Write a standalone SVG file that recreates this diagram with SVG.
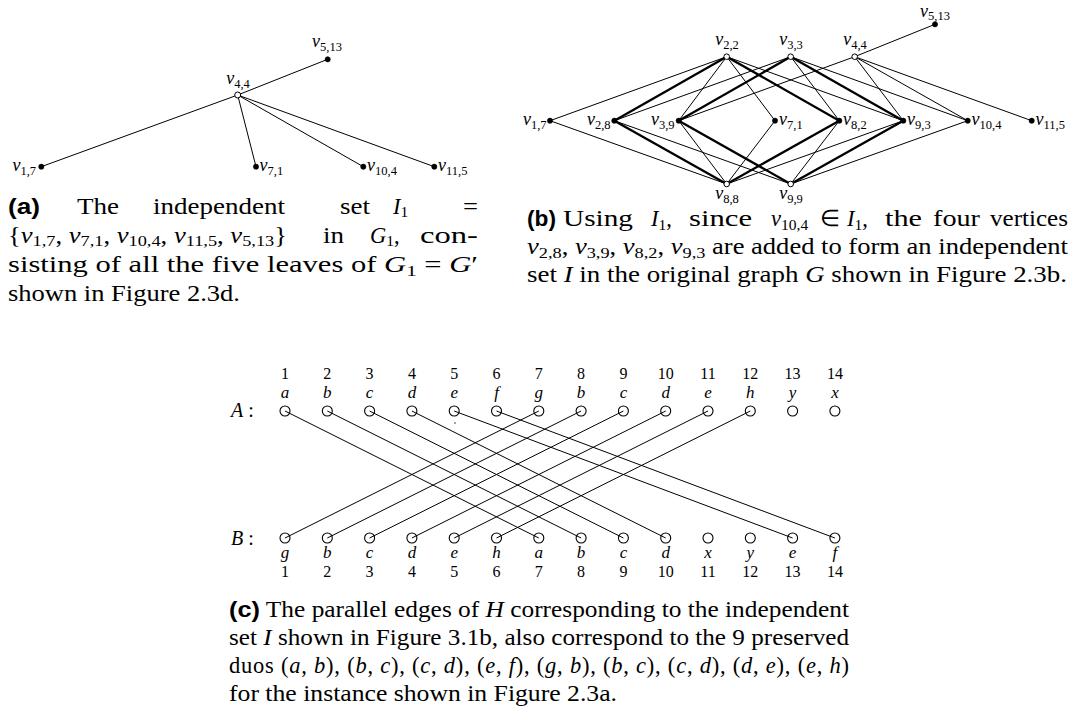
<svg xmlns="http://www.w3.org/2000/svg" width="1070" height="725" viewBox="0 0 1070 725">
<style>
.e{stroke:#000;stroke-width:1;fill:none}
.t{stroke:#000;stroke-width:2.3;fill:none}
.f{fill:#000;stroke:#000;stroke-width:0.6}
.o{fill:#fff;stroke:#000;stroke-width:1}
.c{fill:none;stroke:#000;stroke-width:1.1}
text{font-family:"Liberation Serif","Times New Roman",serif;fill:#000}
.lb{font-size:18px;font-style:italic}
.sb{font-size:12.5px;font-style:normal}
.cap{font-size:22.5px}
.m{font-style:italic}
.s2{font-size:15.5px;font-style:normal}
.bf{font-family:"Liberation Sans",Arial,sans-serif;font-weight:bold}
.num{font-size:16px;text-anchor:middle}
.let{font-size:17px;font-style:italic;text-anchor:middle}
.row{font-size:20px}
</style>

<!-- ===== (a) ===== -->
<g id="a-edges">
<line class="e" x1="237.7" y1="95" x2="327.7" y2="59.3"/>
<line class="e" x1="237.7" y1="95" x2="41.3" y2="166.7"/>
<line class="e" x1="237.7" y1="95" x2="256" y2="166.7"/>
<line class="e" x1="237.7" y1="95" x2="363.3" y2="166.7"/>
<line class="e" x1="237.7" y1="95" x2="434.3" y2="166.7"/>
</g>
<g id="a-v44"><circle class="o" cx="237.7" cy="95" r="3"/><text class="lb" x="238" y="84" text-anchor="middle">v<tspan class="sb" dy="3.5">4,4</tspan></text></g>
<g id="a-v513"><circle class="f" cx="327.7" cy="59.3" r="2.6"/><text class="lb" x="327" y="47" text-anchor="middle">v<tspan class="sb" dy="3.5">5,13</tspan></text></g>
<g id="a-v17"><circle class="f" cx="41.3" cy="166.7" r="2.6"/><text class="lb" x="36" y="171" text-anchor="end">v<tspan class="sb" dy="3.5">1,7</tspan></text></g>
<g id="a-v71"><circle class="f" cx="256" cy="166.7" r="2.6"/><text class="lb" x="259.5" y="171">v<tspan class="sb" dy="3.5">7,1</tspan></text></g>
<g id="a-v104"><circle class="f" cx="363.3" cy="166.7" r="2.6"/><text class="lb" x="367" y="171">v<tspan class="sb" dy="3.5">10,4</tspan></text></g>
<g id="a-v115"><circle class="f" cx="434.3" cy="166.7" r="2.6"/><text class="lb" x="438" y="171">v<tspan class="sb" dy="3.5">11,5</tspan></text></g>

<!-- caption (a) -->
<g id="cap-a" class="cap">
<text x="8" y="213.5" class="bf" textLength="32" lengthAdjust="spacingAndGlyphs">(a)</text>
<text x="77" y="213.5" textLength="42" lengthAdjust="spacingAndGlyphs">The</text>
<text x="153" y="213.5" textLength="132" lengthAdjust="spacingAndGlyphs">independent</text>
<text x="340" y="213.5" textLength="30" lengthAdjust="spacingAndGlyphs">set</text>
<text x="393" y="213.5"><tspan class="m">I</tspan><tspan class="s2" dy="3.5">1</tspan></text>
<text x="463" y="213.5" textLength="15" lengthAdjust="spacingAndGlyphs">=</text>
<text x="8" y="242.5" textLength="279" lengthAdjust="spacingAndGlyphs">{<tspan class="m">v</tspan><tspan class="s2" dy="3.5">1,7</tspan><tspan dy="-3.5">, </tspan><tspan class="m">v</tspan><tspan class="s2" dy="3.5">7,1</tspan><tspan dy="-3.5">, </tspan><tspan class="m">v</tspan><tspan class="s2" dy="3.5">10,4</tspan><tspan dy="-3.5">, </tspan><tspan class="m">v</tspan><tspan class="s2" dy="3.5">11,5</tspan><tspan dy="-3.5">, </tspan><tspan class="m">v</tspan><tspan class="s2" dy="3.5">5,13</tspan><tspan dy="-3.5">}</tspan></text>
<text x="323" y="242.5" textLength="21" lengthAdjust="spacingAndGlyphs">in</text>
<text x="370" y="242.5"><tspan class="m">G</tspan><tspan class="s2" dy="3.5">1</tspan><tspan dy="-3.5">,</tspan></text>
<text x="420" y="242.5" textLength="58" lengthAdjust="spacingAndGlyphs">con-</text>
<text x="8" y="272" textLength="470" lengthAdjust="spacingAndGlyphs">sisting of all the five leaves of <tspan class="m">G</tspan><tspan class="s2" dy="3.5">1</tspan><tspan dy="-3.5"> = </tspan><tspan class="m">G</tspan>′</text>
<text x="8" y="301" textLength="232" lengthAdjust="spacingAndGlyphs">shown in Figure 2.3d.</text>
</g>

<!-- ===== (b) ===== -->
<g id="b-edges">
<line class="e" x1="550" y1="120.7" x2="726.7" y2="56.7"/>
<line class="e" x1="550" y1="120.7" x2="726.7" y2="184"/>
<line class="e" x1="726.7" y1="56.7" x2="678.7" y2="120.7"/>
<line class="e" x1="726.7" y1="56.7" x2="903.3" y2="120.7"/>
<line class="e" x1="726.7" y1="56.7" x2="775" y2="120.7"/>
<line class="e" x1="614.3" y1="120.7" x2="790.7" y2="56.7"/>
<line class="e" x1="614.3" y1="120.7" x2="790.7" y2="184"/>
<line class="e" x1="678.7" y1="120.7" x2="726.7" y2="184"/>
<line class="e" x1="678.7" y1="120.7" x2="854.7" y2="56.7"/>
<line class="e" x1="839.3" y1="120.7" x2="790.7" y2="56.7"/>
<line class="e" x1="839.3" y1="120.7" x2="790.7" y2="184"/>
<line class="e" x1="726.7" y1="184" x2="903.3" y2="120.7"/>
<line class="e" x1="726.7" y1="184" x2="775" y2="120.7"/>
<line class="e" x1="790.7" y1="56.7" x2="967.7" y2="120.7"/>
<line class="e" x1="790.7" y1="184" x2="967.7" y2="120.7"/>
<line class="e" x1="854.7" y1="56.7" x2="903.3" y2="120.7"/>
<line class="e" x1="854.7" y1="56.7" x2="967.7" y2="120.7"/>
<line class="e" x1="854.7" y1="56.7" x2="935" y2="24.3"/>
<line class="e" x1="854.7" y1="56.7" x2="1031.7" y2="120.7"/>
<line class="t" x1="614.3" y1="120.7" x2="726.7" y2="56.7"/>
<line class="t" x1="614.3" y1="120.7" x2="726.7" y2="184"/>
<line class="t" x1="839.3" y1="120.7" x2="726.7" y2="56.7"/>
<line class="t" x1="839.3" y1="120.7" x2="726.7" y2="184"/>
<line class="t" x1="678.7" y1="120.7" x2="790.7" y2="56.7"/>
<line class="t" x1="678.7" y1="120.7" x2="790.7" y2="184"/>
<line class="t" x1="903.3" y1="120.7" x2="790.7" y2="56.7"/>
<line class="t" x1="903.3" y1="120.7" x2="790.7" y2="184"/>
</g>
<g id="b-v17"><circle class="f" cx="550" cy="120.7" r="2.6"/><text class="lb" x="546.5" y="125" text-anchor="end">v<tspan class="sb" dy="3.5">1,7</tspan></text></g>
<g id="b-v28"><circle class="f" cx="614.3" cy="120.7" r="2.6"/><text class="lb" x="610.5" y="125" text-anchor="end">v<tspan class="sb" dy="3.5">2,8</tspan></text></g>
<g id="b-v39"><circle class="f" cx="678.7" cy="120.7" r="2.6"/><text class="lb" x="674.5" y="125" text-anchor="end">v<tspan class="sb" dy="3.5">3,9</tspan></text></g>
<g id="b-v71"><circle class="f" cx="775" cy="120.7" r="2.6"/><text class="lb" x="779" y="125">v<tspan class="sb" dy="3.5">7,1</tspan></text></g>
<g id="b-v82"><circle class="f" cx="839.3" cy="120.7" r="2.6"/><text class="lb" x="843" y="125">v<tspan class="sb" dy="3.5">8,2</tspan></text></g>
<g id="b-v93"><circle class="f" cx="903.3" cy="120.7" r="2.6"/><text class="lb" x="907" y="125">v<tspan class="sb" dy="3.5">9,3</tspan></text></g>
<g id="b-v104"><circle class="f" cx="967.7" cy="120.7" r="2.6"/><text class="lb" x="971.5" y="125">v<tspan class="sb" dy="3.5">10,4</tspan></text></g>
<g id="b-v115"><circle class="f" cx="1031.7" cy="120.7" r="2.6"/><text class="lb" x="1035.5" y="125">v<tspan class="sb" dy="3.5">11,5</tspan></text></g>
<g id="b-v22"><circle class="o" cx="726.7" cy="56.7" r="2.8"/><text class="lb" x="727" y="45" text-anchor="middle">v<tspan class="sb" dy="3.5">2,2</tspan></text></g>
<g id="b-v33"><circle class="o" cx="790.7" cy="56.7" r="2.8"/><text class="lb" x="791" y="45" text-anchor="middle">v<tspan class="sb" dy="3.5">3,3</tspan></text></g>
<g id="b-v44"><circle class="o" cx="854.7" cy="56.7" r="2.8"/><text class="lb" x="855" y="45" text-anchor="middle">v<tspan class="sb" dy="3.5">4,4</tspan></text></g>
<g id="b-v513"><circle class="f" cx="935" cy="24.3" r="2.6"/><text class="lb" x="935" y="16.5" text-anchor="middle">v<tspan class="sb" dy="3">5,13</tspan></text></g>
<g id="b-v88"><circle class="o" cx="726.7" cy="184" r="2.8"/><text class="lb" x="727" y="199" text-anchor="middle">v<tspan class="sb" dy="3.5">8,8</tspan></text></g>
<g id="b-v99"><circle class="o" cx="790.7" cy="184" r="2.8"/><text class="lb" x="791" y="199" text-anchor="middle">v<tspan class="sb" dy="3.5">9,9</tspan></text></g>

<!-- caption (b) -->
<g id="cap-b" class="cap">
<text x="527" y="226" class="bf" textLength="29" lengthAdjust="spacingAndGlyphs">(b)</text>
<text x="563" y="226" textLength="70" lengthAdjust="spacingAndGlyphs">Using</text>
<text x="651" y="226"><tspan class="m">I</tspan><tspan class="s2" dy="3.5">1</tspan><tspan dy="-3.5">,</tspan></text>
<text x="689" y="226" textLength="63" lengthAdjust="spacingAndGlyphs">since</text>
<text x="771" y="226"><tspan class="m">v</tspan><tspan class="s2" dy="3.5">10,4</tspan></text>
<text x="820" y="226">∈</text>
<text x="847" y="226"><tspan class="m">I</tspan><tspan class="s2" dy="3.5">1</tspan><tspan dy="-3.5">,</tspan></text>
<text x="885" y="226" textLength="37" lengthAdjust="spacingAndGlyphs">the</text>
<text x="933" y="226" textLength="47" lengthAdjust="spacingAndGlyphs">four</text>
<text x="990" y="226" textLength="78" lengthAdjust="spacingAndGlyphs">vertices</text>
<text x="527" y="254" textLength="541" lengthAdjust="spacingAndGlyphs"><tspan class="m">v</tspan><tspan class="s2" dy="3.5">2,8</tspan><tspan dy="-3.5">, </tspan><tspan class="m">v</tspan><tspan class="s2" dy="3.5">3,9</tspan><tspan dy="-3.5">, </tspan><tspan class="m">v</tspan><tspan class="s2" dy="3.5">8,2</tspan><tspan dy="-3.5">, </tspan><tspan class="m">v</tspan><tspan class="s2" dy="3.5">9,3</tspan><tspan dy="-3.5"> are added to form an independent</tspan></text>
<text x="527" y="282" textLength="540" lengthAdjust="spacingAndGlyphs">set <tspan class="m">I</tspan> in the original graph <tspan class="m">G</tspan> shown in Figure 2.3b.</text>
</g>

<!-- ===== (c) ===== -->
<g id="c-edges">
<line class="e" x1="285" y1="411" x2="538.8" y2="538"/>
<line class="e" x1="327.3" y1="411" x2="581.1" y2="538"/>
<line class="e" x1="369.6" y1="411" x2="623.4" y2="538"/>
<line class="e" x1="411.9" y1="411" x2="665.7" y2="538"/>
<line class="e" x1="454.2" y1="411" x2="792.6" y2="538"/>
<line class="e" x1="496.5" y1="411" x2="834.9" y2="538"/>
<line class="e" x1="538.8" y1="411" x2="285" y2="538"/>
<line class="e" x1="581.1" y1="411" x2="327.3" y2="538"/>
<line class="e" x1="623.4" y1="411" x2="369.6" y2="538"/>
<line class="e" x1="665.7" y1="411" x2="411.9" y2="538"/>
<line class="e" x1="708" y1="411" x2="454.2" y2="538"/>
<line class="e" x1="750.3" y1="411" x2="496.5" y2="538"/>
</g>
<circle cx="455" cy="423" r="0.7" fill="#000"/>
<g id="rowA">
<text class="row" x="231" y="417"><tspan class="m">A</tspan> :</text>
<g id="A1"><circle class="c" cx="285" cy="411" r="5"/><text class="num" x="285" y="379">1</text><text class="let" x="285" y="398">a</text></g>
<g id="A2"><circle class="c" cx="327.3" cy="411" r="5"/><text class="num" x="327.3" y="379">2</text><text class="let" x="327.3" y="398">b</text></g>
<g id="A3"><circle class="c" cx="369.6" cy="411" r="5"/><text class="num" x="369.6" y="379">3</text><text class="let" x="369.6" y="398">c</text></g>
<g id="A4"><circle class="c" cx="411.9" cy="411" r="5"/><text class="num" x="411.9" y="379">4</text><text class="let" x="411.9" y="398">d</text></g>
<g id="A5"><circle class="c" cx="454.2" cy="411" r="5"/><text class="num" x="454.2" y="379">5</text><text class="let" x="454.2" y="398">e</text></g>
<g id="A6"><circle class="c" cx="496.5" cy="411" r="5"/><text class="num" x="496.5" y="379">6</text><text class="let" x="496.5" y="398">f</text></g>
<g id="A7"><circle class="c" cx="538.8" cy="411" r="5"/><text class="num" x="538.8" y="379">7</text><text class="let" x="538.8" y="398">g</text></g>
<g id="A8"><circle class="c" cx="581.1" cy="411" r="5"/><text class="num" x="581.1" y="379">8</text><text class="let" x="581.1" y="398">b</text></g>
<g id="A9"><circle class="c" cx="623.4" cy="411" r="5"/><text class="num" x="623.4" y="379">9</text><text class="let" x="623.4" y="398">c</text></g>
<g id="A10"><circle class="c" cx="665.7" cy="411" r="5"/><text class="num" x="665.7" y="379">10</text><text class="let" x="665.7" y="398">d</text></g>
<g id="A11"><circle class="c" cx="708" cy="411" r="5"/><text class="num" x="708" y="379">11</text><text class="let" x="708" y="398">e</text></g>
<g id="A12"><circle class="c" cx="750.3" cy="411" r="5"/><text class="num" x="750.3" y="379">12</text><text class="let" x="750.3" y="398">h</text></g>
<g id="A13"><circle class="c" cx="792.6" cy="411" r="5"/><text class="num" x="792.6" y="379">13</text><text class="let" x="792.6" y="398">y</text></g>
<g id="A14"><circle class="c" cx="834.9" cy="411" r="5"/><text class="num" x="834.9" y="379">14</text><text class="let" x="834.9" y="398">x</text></g>
</g>
<g id="rowB">
<text class="row" x="231" y="545"><tspan class="m">B</tspan> :</text>
<g id="B1"><circle class="c" cx="285" cy="538" r="5"/><text class="let" x="285" y="558">g</text><text class="num" x="285" y="577">1</text></g>
<g id="B2"><circle class="c" cx="327.3" cy="538" r="5"/><text class="let" x="327.3" y="558">b</text><text class="num" x="327.3" y="577">2</text></g>
<g id="B3"><circle class="c" cx="369.6" cy="538" r="5"/><text class="let" x="369.6" y="558">c</text><text class="num" x="369.6" y="577">3</text></g>
<g id="B4"><circle class="c" cx="411.9" cy="538" r="5"/><text class="let" x="411.9" y="558">d</text><text class="num" x="411.9" y="577">4</text></g>
<g id="B5"><circle class="c" cx="454.2" cy="538" r="5"/><text class="let" x="454.2" y="558">e</text><text class="num" x="454.2" y="577">5</text></g>
<g id="B6"><circle class="c" cx="496.5" cy="538" r="5"/><text class="let" x="496.5" y="558">h</text><text class="num" x="496.5" y="577">6</text></g>
<g id="B7"><circle class="c" cx="538.8" cy="538" r="5"/><text class="let" x="538.8" y="558">a</text><text class="num" x="538.8" y="577">7</text></g>
<g id="B8"><circle class="c" cx="581.1" cy="538" r="5"/><text class="let" x="581.1" y="558">b</text><text class="num" x="581.1" y="577">8</text></g>
<g id="B9"><circle class="c" cx="623.4" cy="538" r="5"/><text class="let" x="623.4" y="558">c</text><text class="num" x="623.4" y="577">9</text></g>
<g id="B10"><circle class="c" cx="665.7" cy="538" r="5"/><text class="let" x="665.7" y="558">d</text><text class="num" x="665.7" y="577">10</text></g>
<g id="B11"><circle class="c" cx="708" cy="538" r="5"/><text class="let" x="708" y="558">x</text><text class="num" x="708" y="577">11</text></g>
<g id="B12"><circle class="c" cx="750.3" cy="538" r="5"/><text class="let" x="750.3" y="558">y</text><text class="num" x="750.3" y="577">12</text></g>
<g id="B13"><circle class="c" cx="792.6" cy="538" r="5"/><text class="let" x="792.6" y="558">e</text><text class="num" x="792.6" y="577">13</text></g>
<g id="B14"><circle class="c" cx="834.9" cy="538" r="5"/><text class="let" x="834.9" y="558">f</text><text class="num" x="834.9" y="577">14</text></g>
</g>

<!-- caption (c) -->
<g id="cap-c" class="cap">
<text x="229" y="617" textLength="620" lengthAdjust="spacingAndGlyphs"><tspan class="bf">(c)</tspan> The parallel edges of <tspan class="m">H</tspan> corresponding to the independent</text>
<text x="229" y="645" textLength="620" lengthAdjust="spacingAndGlyphs">set <tspan class="m">I</tspan> shown in Figure 3.1b, also correspond to the 9 preserved</text>
<text x="229" y="673" textLength="620" lengthAdjust="spacing">duos  (<tspan class="m">a</tspan>, <tspan class="m">b</tspan>), (<tspan class="m">b</tspan>, <tspan class="m">c</tspan>), (<tspan class="m">c</tspan>, <tspan class="m">d</tspan>), (<tspan class="m">e</tspan>, <tspan class="m">f</tspan>),  (<tspan class="m">g</tspan>, <tspan class="m">b</tspan>), (<tspan class="m">b</tspan>, <tspan class="m">c</tspan>), (<tspan class="m">c</tspan>, <tspan class="m">d</tspan>), (<tspan class="m">d</tspan>, <tspan class="m">e</tspan>), (<tspan class="m">e</tspan>, <tspan class="m">h</tspan>)</text>
<text x="229" y="701" textLength="388" lengthAdjust="spacingAndGlyphs">for the instance shown in Figure 2.3a.</text>
</g>
</svg>
